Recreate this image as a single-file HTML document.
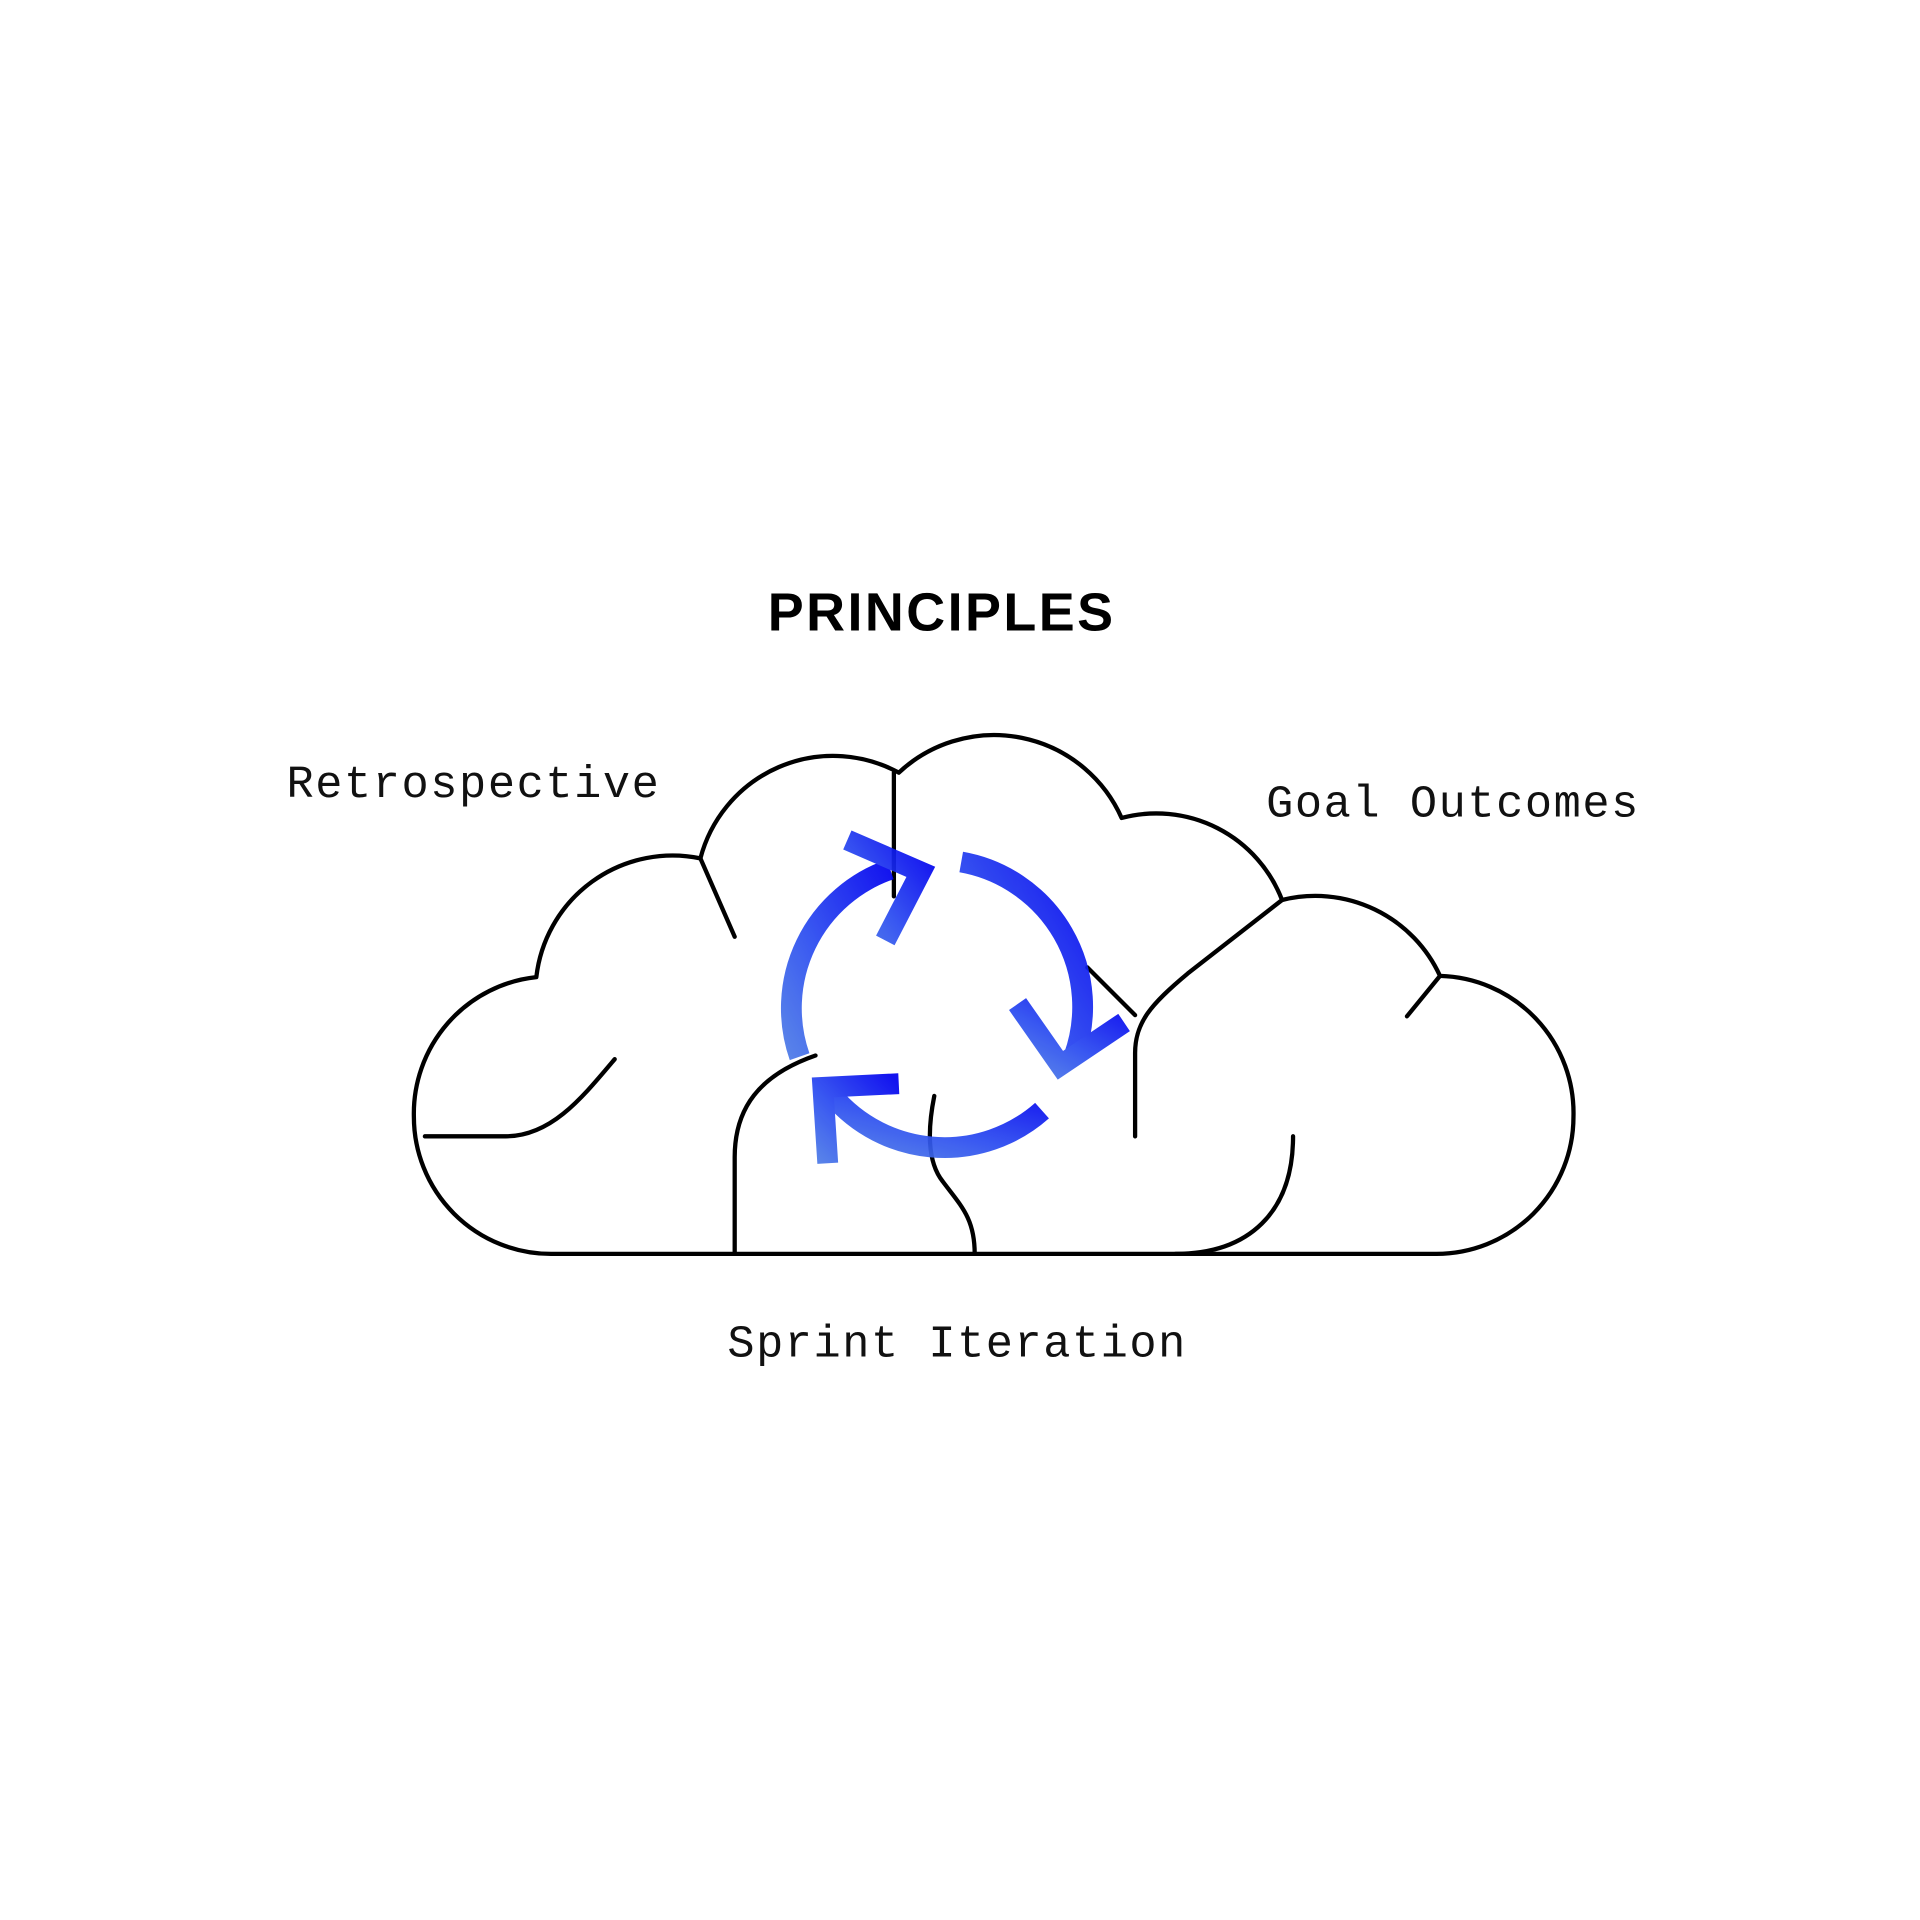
<!DOCTYPE html>
<html><head><meta charset="utf-8"><style>
html,body{margin:0;padding:0;background:#fff;}
svg{display:block;}
</style></head><body>
<svg width="1920" height="1920" viewBox="0 0 1568 1568" xmlns="http://www.w3.org/2000/svg">
<defs>
<linearGradient id="g" x1="1" y1="0" x2="0" y2="1">
<stop offset="0" stop-color="#0000ee"/>
<stop offset="0.6" stop-color="#2a4cf0"/>
<stop offset="1" stop-color="#4a78e8"/>
</linearGradient>
</defs>
<text x="768" y="515" text-anchor="middle" font-family="Liberation Sans, sans-serif" font-weight="bold" font-size="44" textLength="282" fill="#000">PRINCIPLES</text>
<g font-family="Liberation Mono, monospace" font-size="37" fill="#111">
<text x="234" y="651" textLength="304">Retrospective</text>
<text x="1034" y="667" textLength="304">Goal Outcomes</text>
<text x="594" y="1108" textLength="374">Sprint Iteration</text>
</g>
<g fill="none" stroke="#000" stroke-width="3.5" stroke-linecap="round" stroke-linejoin="round">
<path d="M450 1024 A112 112 0 0 1 338 912 A112 112 0 0 1 438 798 A112 112 0 0 1 572 701 A112 112 0 0 1 734 631 A114 114 0 0 1 916 668 A110 110 0 0 1 1047 735 A112 112 0 0 1 1176 797 A112 112 0 0 1 1285 912 A112 112 0 0 1 1173 1024 L450 1024"/>
<path d="M572 701 L600 765"/>
<path d="M730 631 L730 732"/>
<path d="M347 928 L413 928 C450 928 475 897 502 865"/>
<path d="M666 862 C620 878 600 905 600 945 L600 1024"/>
<path d="M763 895 C757 925 758 950 770 965 C785 985 796 995 796 1024"/>
<path d="M888 790 L927 829"/>
<path d="M1047 735 L970 795 C940 820 927 835 927 860 L927 928"/>
<path d="M1176 797 L1149 830"/>
<path d="M1056 928 C1056 990 1020 1024 960 1024"/>
</g>
<g fill="none" stroke="url(#g)" stroke-width="17" opacity="0.92">
<path d="M785 704 A120 120 0 0 1 877 863"/>
<path d="M851 907 A120 120 0 0 1 676 890"/>
<path d="M653 863 A120 120 0 0 1 727 710"/>
<path d="M692 686 L752 712 L723 768"/>
<path d="M831 820 L866 870 L918 835"/>
<path d="M734 885 L672 888 L676 950"/>
</g>
</svg>
</body></html>
